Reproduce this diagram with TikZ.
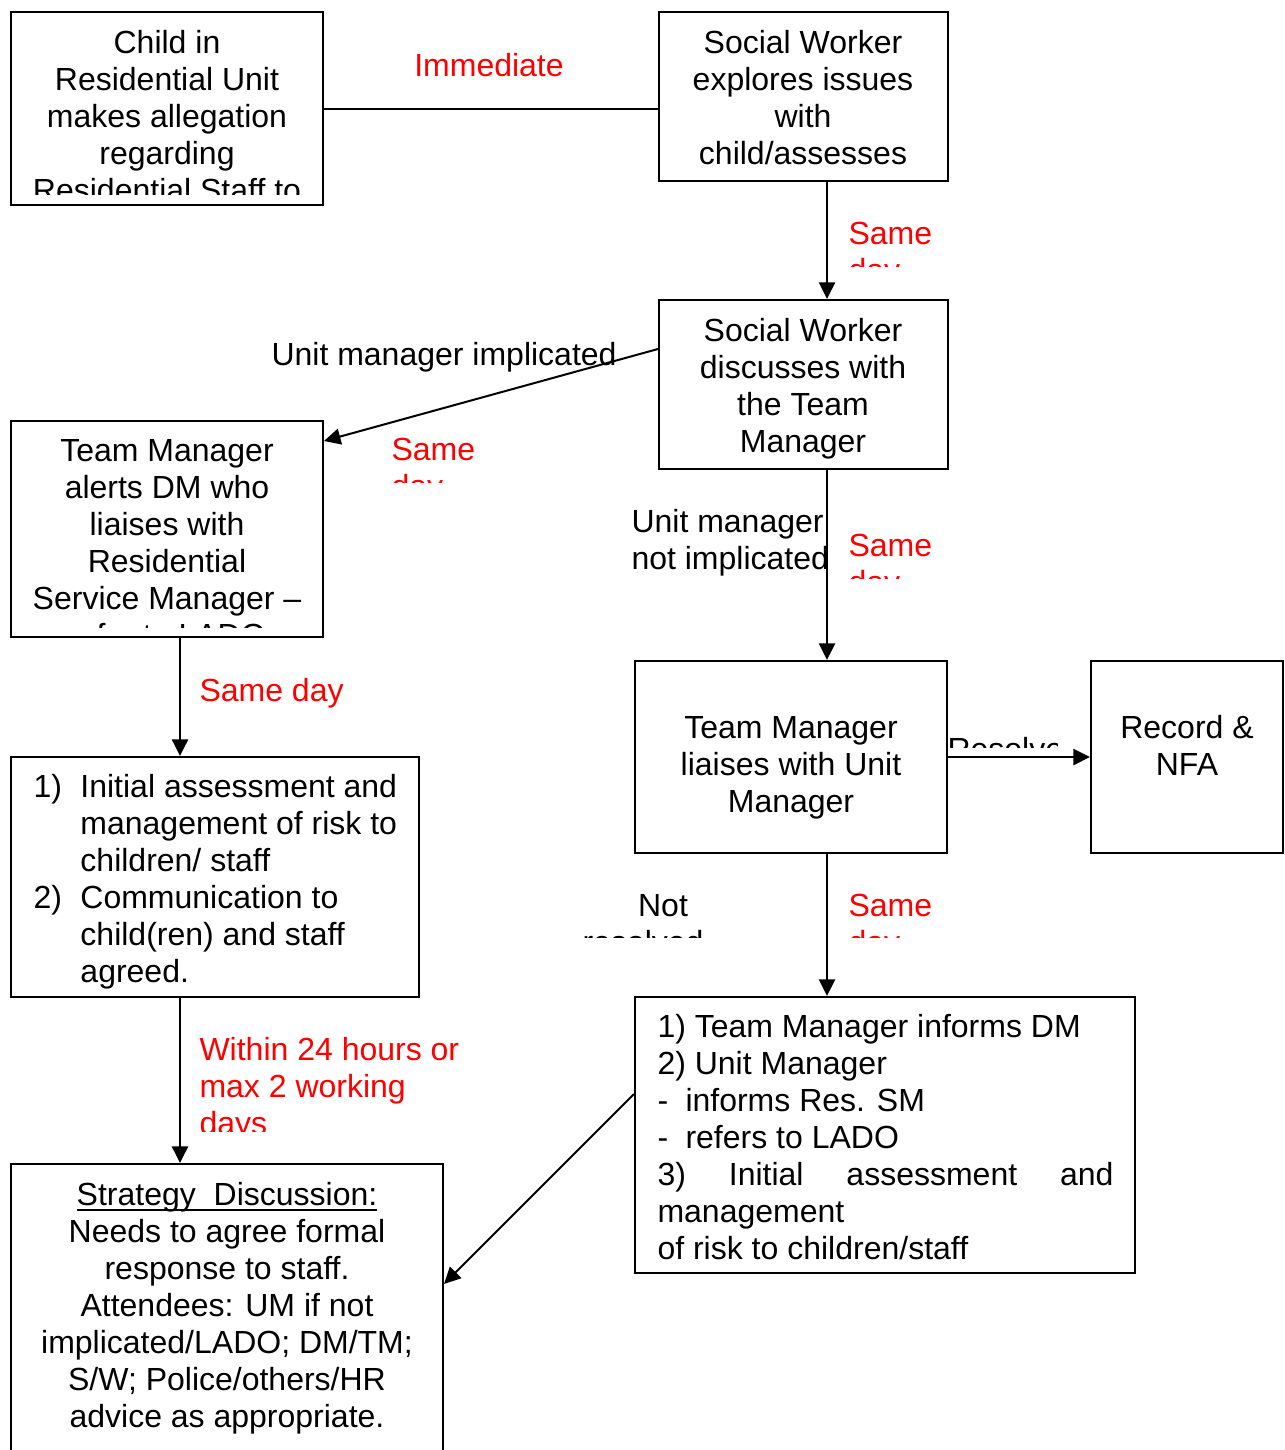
\documentclass[tikz,border=0pt]{standalone}
\usepackage{fontspec}
\setmainfont{Liberation Sans}
\usetikzlibrary{arrows.meta,fit}
\newcommand{\myfs}{\rule{0pt}{9pt}}
\newlength{\myulw}
\newcommand{\myul}[1]{\settowidth{\myulw}{#1}\makebox[0pt][l]{\rule[-2.1pt]{\myulw}{0.75pt}}#1}
\begin{document}
\begin{tikzpicture}[x=0.375pt,y=-0.375pt,
  box/.style={draw,line width=0.75pt,inner sep=0pt},
  txt/.style={inner sep=0pt,font=\fontsize{12pt}{13.875pt}\selectfont,align=center},
  lbl/.style={txt,text=red,align=left},
  blk/.style={txt,align=left},
  conn/.style={line width=0.75pt},
  arr/.style={conn,-{Triangle[length=6.2pt,width=6pt]}}]
\clip (0,0) rectangle (1285,1450);
\fill[white] (0,0) rectangle (1285,1450);

% boxes
\node[box,fit={(11,12)(323,205)}] (child) {};
\node[box,fit={(659,12)(948,181)}] (sw1) {};
\node[box,fit={(659,300)(948,469)}] (sw2) {};
\node[box,fit={(11,421)(323,637)}] (tma) {};
\node[box,fit={(11,757)(419,997)}] (ia) {};
\node[box,fit={(635,661)(947,853)}] (tml) {};
\node[box,fit={(1091,661)(1283,853)}] (rec) {};
\node[box,fit={(635,997)(1135,1273)}] (tmi) {};
\node[box,fit={(11,1164)(443,1480)}] (sd) {};

% box texts
\begin{scope}
\clip (12,12) rectangle (322,194);
\node[txt,anchor=north] (child-t) at (167,29) {\myfs Child in\\Residential Unit\\makes allegation\\regarding\\Residential Staff to};
\end{scope}
\node[txt,anchor=north] (sw1-t) at (803,29) {\myfs Social Worker\\explores issues\\with\\child/assesses};
\node[txt,anchor=north] (sw2-t) at (803,317) {\myfs Social Worker\\discusses with\\the Team\\Manager};
\begin{scope}
\clip (12,421) rectangle (322,627);
\node[txt,anchor=north] (tma-t) at (167,437) {\myfs Team Manager\\alerts DM who\\liaises with\\Residential\\Service Manager --\\refer to LADO};
\end{scope}
\node[blk,anchor=north west] (ia-t) at (33,773) {\myfs\makebox[17.6pt][l]{1)}Initial assessment and\\\hspace*{17.6pt}management of risk to\\\hspace*{17.6pt}children/ staff\\\makebox[17.6pt][l]{2)}Communication to\\\hspace*{17.6pt}child(ren) and staff\\\hspace*{17.6pt}agreed.};
\node[txt,anchor=north] (tml-t) at (791,714) {\myfs Team Manager\\liaises with Unit\\Manager};
\node[txt,anchor=north] (rec-t) at (1187,714) {\myfs Record \&\\NFA};
\node[blk,anchor=north west] (tmi-t) at (657,1013) {\myfs 1) Team Manager informs DM\\2) Unit Manager\\-\hspace*{6.5pt}informs Res. SM\\-\hspace*{6.5pt}refers to LADO\\\hbox to 171pt{3)\hfill Initial\hfill assessment\hfill and}\\management\\of risk to children/staff};
\node[txt,anchor=north] (sd-t) at (227,1181) {\myfs\myul{Strategy\ \ Discussion:}\\Needs to agree formal\\response to staff.\\Attendees: UM if not\\implicated/LADO; DM/TM;\\S/W; Police/others/HR\\advice as appropriate.};

% connectors
\coordinate (c1) at (827,0);
\coordinate (c2) at (180,0);
\coordinate (ya) at (0,349);
\coordinate (yb) at (0,441);
\coordinate (yc) at (0,757);
\coordinate (yd) at (0,1094);
\coordinate (ye) at (0,1284);
\draw[conn] (child.east) -- (child.east -| sw1.west);
\draw[arr] (sw1.south -| c1) -- (sw2.north -| c1);
\draw[arr] (sw2.west |- ya) -- (tma.east |- yb);
\draw[arr] (sw2.south -| c1) -- (tml.north -| c1);
\draw[arr] (tma.south -| c2) -- (ia.north -| c2);
\draw[arr] (tml.east |- yc) -- (rec.west |- yc);
\draw[arr] (tml.south -| c1) -- (tmi.north -| c1);
\draw[arr] (ia.south -| c2) -- (sd.north -| c2);
\draw[arr] (tmi.west |- yd) -- (sd.east |- ye);

% labels
\node[lbl,anchor=base] (l-imm) at (489,76) {Immediate};
\begin{scope}
\clip (840,200) rectangle (960,266);
\node[lbl,anchor=north west] (l-sd1) at (848,220) {\myfs Same\\day};
\end{scope}
\node[blk,anchor=base west] (l-umi) at (271,365) {Unit manager implicated};
\begin{scope}
\clip (380,420) rectangle (500,482);
\node[lbl,anchor=north west] (l-sd2) at (391,436) {\myfs Same\\day};
\end{scope}
\node[blk,anchor=north west] (l-umni) at (631,508) {\myfs Unit manager\\not implicated};
\begin{scope}
\clip (840,510) rectangle (960,578);
\node[lbl,anchor=north west] (l-sd3) at (848,532) {\myfs Same\\day};
\end{scope}
\node[lbl,anchor=base west] (l-sd4) at (199,701) {Same day};
\begin{scope}
\clip (945,725) rectangle (1057,747);
\node[blk,anchor=base west] (l-res) at (947,760) {Resolved};
\end{scope}
\begin{scope}
\clip (560,880) rectangle (720,937);
\node[txt,anchor=north] (l-nr) at (643,892) {\myfs\hspace*{15pt}Not\\resolved};
\end{scope}
\begin{scope}
\clip (840,880) rectangle (960,937);
\node[lbl,anchor=north west] (l-sd5) at (848,892) {\myfs Same\\day};
\end{scope}
\begin{scope}
\clip (190,1020) rectangle (480,1131);
\node[lbl,anchor=north west] (l-24) at (199,1036) {\myfs Within 24 hours or\\max 2 working\\days};
\end{scope}
\end{tikzpicture}
\end{document}
